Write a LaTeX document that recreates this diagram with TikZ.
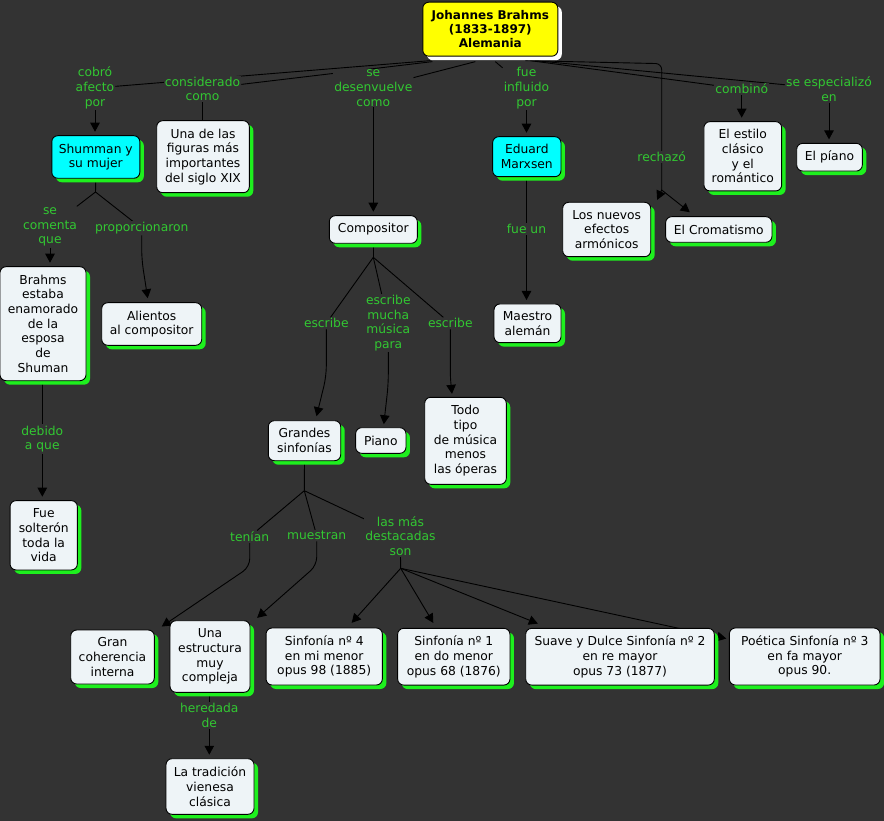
\documentclass[tikz,border=0pt]{standalone}
\usepackage{fontspec}
\setmainfont{DejaVu Sans}
\usetikzlibrary{arrows.meta,shadows,calc}
\pgfdeclarelayer{bglayer}
\pgfdeclarelayer{edges}
\pgfsetlayers{bglayer,edges,main}
\definecolor{bgcol}{RGB}{51,51,51}
\definecolor{boxfill}{RGB}{238,244,247}
\definecolor{shgreen}{RGB}{30,240,30}
\definecolor{lblgreen}{RGB}{50,200,50}
\definecolor{cyanfill}{RGB}{0,255,255}
\definecolor{yellowfill}{RGB}{255,255,0}
\tikzset{
  every node/.style={font=\fontsize{12.3}{14.7}\selectfont},
  box/.style={draw=black, line width=0.9pt, rounded corners=6pt, fill=boxfill, text=black,
    align=center, inner sep=2pt,
    drop shadow={shadow xshift=4pt,shadow yshift=-4pt,opacity=1,fill=shgreen}},
  cbox/.style={box, fill=cyanfill},
  topbox/.style={draw=black, line width=0.9pt, rounded corners=6pt, fill=yellowfill, text=black,
    align=center, inner sep=2pt, font=\fontsize{12}{14}\selectfont\bfseries,
    drop shadow={shadow xshift=4pt,shadow yshift=-4pt,opacity=1,fill=white}},
  lbl/.style={fill=bgcol, text=lblgreen, align=center, inner sep=1pt},
  conn/.style={draw=black, line width=0.9pt},
  arr/.style={conn, -{Triangle[length=9pt,width=9.5pt]}},
  arrb/.style={arr, shorten >=3.5pt},
}
\begin{document}
\begin{tikzpicture}[x=1pt,y=-1pt]
\begin{pgfonlayer}{bglayer}
\fill[bgcol] (0,0) rectangle (884,821);
\end{pgfonlayer}
\useasboundingbox (0,0) rectangle (884,821);

% concepts
\node[topbox,minimum width=135pt,minimum height=54pt] (brahms) at (490.3,29.2) {Johannes Brahms\\(1833-1897)\\Alemania};
\node[cbox,minimum width=88pt,minimum height=42.6pt] (shumman) at (95.8,157) {Shumman y\\su mujer};
\node[box,minimum width=92.6pt,minimum height=72pt] (figuras) at (203,156.7) {Una de las\\figuras más\\importantes\\del siglo XIX};
\node[cbox,minimum width=68.3pt,minimum height=40pt] (eduard) at (526.8,156.7) {Eduard\\Marxsen};
\node[box,minimum width=77.7pt,minimum height=69.3pt] (estilo) at (742.8,156.3) {El estilo\\clásico\\y el\\romántico};
\node[box,minimum width=65.6pt,minimum height=27.7pt] (pianoe) at (829.5,157.2) {El píano};
\node[box,minimum width=88pt,minimum height=54.4pt] (nuevos) at (606.7,229.5) {Los nuevos\\efectos\\armónicos};
\node[box,minimum width=106.3pt,minimum height=25.6pt] (cromatismo) at (718.8,229.5) {El Cromatismo};
\node[box,minimum width=88pt,minimum height=27.6pt] (compositor) at (373.3,229.5) {Compositor};
\node[box,minimum width=67pt,minimum height=38.7pt] (maestro) at (527.5,323.3) {Maestro\\alemán};
\node[box,minimum width=72.4pt,minimum height=40pt] (grandes) at (304.5,440.7) {Grandes\\sinfonías};
\node[box,minimum width=50.3pt,minimum height=25.6pt] (piano) at (380.8,440.5) {Piano};
\node[box,minimum width=81.6pt,minimum height=87pt] (todo) at (465.5,440.8) {Todo\\tipo\\de música\\menos\\las óperas};
\node[box,minimum width=86pt,minimum height=114pt] (enamorado) at (43,323.7) {Brahms\\estaba\\enamorado\\de la\\esposa\\de\\Shuman};
\node[box,minimum width=100pt,minimum height=42.6pt] (alientos) at (151.7,324) {Alientos\\al compositor};
\node[box,minimum width=67.3pt,minimum height=69.3pt] (solteron) at (43.7,535.3) {Fue\\solterón\\toda la\\vida};
\node[box,minimum width=83.6pt,minimum height=54pt] (coherencia) at (112.5,657) {Gran\\coherencia\\interna};
\node[box,minimum width=80pt,minimum height=71.6pt] (estructura) at (210,656.5) {Una\\estructura\\muy\\compleja};
\node[box,minimum width=88pt,minimum height=55.6pt] (tradicion) at (210,786.5) {La tradición\\vienesa\\clásica};
\node[box,minimum width=116.3pt,minimum height=57pt] (sinf4) at (324.2,656.5) {Sinfonía nº 4\\en mi menor\\opus 98 (1885)};
\node[box,minimum width=112.3pt,minimum height=56.7pt] (sinf1) at (453.8,656.7) {Sinfonía nº 1\\en do menor\\opus 68 (1876)};
\node[box,minimum width=188.6pt,minimum height=56.7pt] (suave) at (620,656.7) {Suave y Dulce Sinfonía nº 2\\en re mayor\\opus 73 (1877)};
\node[box,minimum width=150.7pt,minimum height=57pt] (poetica) at (804.7,656.5) {Poética Sinfonía nº 3\\en fa mayor\\opus 90.};

% linking phrases
\node[lbl] (l_cobro) at (95,88) {cobró\\afecto\\por};
\node[lbl] (l_consid) at (202.5,89) {considerado\\como};
\node[lbl] (l_desenv) at (373.3,88) {se\\desenvuelve\\como};
\node[lbl] (l_influido) at (526.5,88) {fue\\influido\\por};
\node[lbl] (l_rechazo) at (661.7,157) {rechazó};
\node[lbl] (l_combino) at (741.7,89) {combinó};
\node[lbl] (l_especial) at (829,89) {se especializó\\en};
\node[lbl] (l_fueun) at (526.5,229) {fue un};
\node[lbl] (l_comenta) at (50,227) {se\\comenta\\que};
\node[lbl] (l_proporc) at (141.7,228.3) {proporcionaron};
\node[lbl] (l_debido) at (42.3,439) {debido\\a que};
\node[lbl] (l_escribe1) at (326.3,323.3) {escribe};
\node[lbl] (l_mucha) at (388.3,323) {escribe\\mucha\\música\\para};
\node[lbl] (l_escribe2) at (450.3,323.3) {escribe};
\node[lbl] (l_tenian) at (249.7,536.7) {tenían};
\node[lbl] (l_muestran) at (316.7,535.7) {muestran};
\node[lbl] (l_destac) at (400.5,536) {las más\\destacadas\\son};
\node[lbl] (l_heredada) at (209.3,715.5) {heredada\\de};

% junctions
\coordinate (js) at (95.5,192);
\coordinate (jc) at (373.3,257.3);
\coordinate (jg) at (304.3,490.7);
\coordinate (jd) at (400.7,568.3);
\coordinate (jr) at (661.7,190);

\begin{pgfonlayer}{edges}
% from Brahms
\draw[conn] ($(brahms.south)+(-60,4)$) -- (l_cobro);
\draw[conn] ($(brahms.south)+(-58,5)$) -- (l_consid);
\draw[conn] ($(brahms.south)+(-15,5)$) -- (l_desenv);
\draw[conn] ($(brahms.south)+(5,5)$) -- (l_influido);
\draw[conn,rounded corners=6pt] ($(brahms.south)+(35,4)$) -- ($(l_rechazo |- brahms.south)+(0,7)$) -- (l_rechazo);
\draw[conn] ($(brahms.south)+(40,4)$) -- (l_combino);
\draw[conn] ($(brahms.south)+(45,4)$) -- (l_especial);
% first level
\draw[arrb] (l_cobro.south) -- (l_cobro.south |- shumman.north);
\draw[conn] (l_consid.south) -- (l_consid.south |- figuras.north);
\draw[arrb] (l_desenv.south) -- (l_desenv.south |- compositor.north);
\draw[arrb] (l_influido.south) -- (l_influido.south |- eduard.north);
\draw[arrb] (l_combino.south) -- (l_combino.south |- estilo.north);
\draw[arrb] (l_especial.south) -- (l_especial.south |- pianoe.north);
% rechazo
\draw[arr] (l_rechazo.south) -- (jr) -- ($(nuevos.north east)+(6,-2)$);
\draw[arr] (jr) -- ($(cromatismo.north)+(-29,-4)$);
% Eduard
\draw[conn] (l_fueun |- eduard.south) -- (l_fueun);
\draw[arrb] (l_fueun.south) -- (l_fueun.south |- maestro.north);
% Shumman
\draw[conn] (shumman.south) -- (js);
\draw[conn] (js) -- (l_comenta);
\draw[conn] (js) -- (l_proporc);
\draw[arrb] (l_comenta.south) -- (l_comenta.south |- enamorado.north);
\draw[arr,rounded corners=10pt] (l_proporc.south) -- ($(l_proporc.south)+(0,24)$) -- ($(alientos.north)+(-4,-4)$);
\draw[conn] (l_debido |- enamorado.south) -- (l_debido);
\draw[arrb] (l_debido.south) -- (l_debido.south |- solteron.north);
% Compositor
\draw[conn] (compositor.south) -- (jc);
\draw[conn] (jc) -- (l_escribe1);
\draw[conn] (jc) -- (l_mucha);
\draw[conn] (jc) -- (l_escribe2);
\draw[arr,rounded corners=10pt] (l_escribe1.south) -- ($(l_escribe1.south)+(0,47)$) -- ($(grandes.north)+(12,-4)$);
\draw[arr,rounded corners=10pt] (l_mucha.south) -- ($(l_mucha.south)+(0,32)$) -- ($(piano.north)+(3,-3)$);
\draw[arr,rounded corners=6pt] (l_escribe2.south) -- ($(l_escribe2.south)+(0,48)$) -- ($(todo.north)+(-13.5,-3)$);
% Grandes sinfonias
\draw[conn] (grandes.south) -- (jg);
\draw[conn] (jg) -- (l_tenian);
\draw[conn] (jg) -- (l_muestran);
\draw[conn] (jg) -- (l_destac);
\draw[arr,rounded corners=8pt] (l_tenian.south) -- ($(l_tenian.south)+(0,24)$) -- ($(coherencia.north east)+(7,-3)$);
\draw[arr,rounded corners=8pt] (l_muestran.south) -- ($(l_muestran.south)+(0,24)$) -- ($(estructura.north east)+(6.7,-2.4)$);
\draw[conn] (l_destac.south) -- (jd);
\draw[arr] (jd) -- ($(sinf4.north)+(27.5,-4.7)$);
\draw[arr] (jd) -- ($(sinf1.north)+(-20.5,-5)$);
\draw[arr] (jd) -- ($(suave.north west)+(12.6,-4.3)$);
\draw[arr] (jd) -- ($(poetica.north west)+(-2.6,11)$);
% Una estructura
\draw[conn] (l_heredada |- estructura.south) -- (l_heredada);
\draw[arrb] (l_heredada.south) -- (l_heredada.south |- tradicion.north);
\end{pgfonlayer}
\end{tikzpicture}
\end{document}
